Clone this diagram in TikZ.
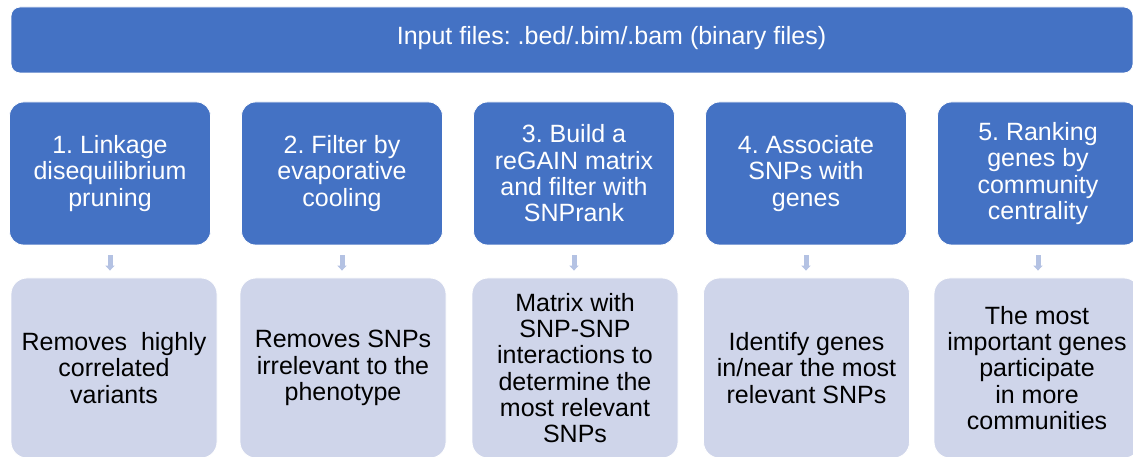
\documentclass[tikz,border=0pt]{standalone}
\usepackage{fontspec}
\setmainfont{Liberation Sans}
\frenchspacing
\usetikzlibrary{arrows.meta}
\definecolor{stepblue}{HTML}{4472C4}
\definecolor{noteblue}{HTML}{CFD5EA}
\definecolor{arrowblue}{HTML}{B4C2E3}
\tikzset{
  banner/.style={fill=stepblue, draw=white, line width=0.8pt, rounded corners=9pt,
    minimum width=1122pt, minimum height=66pt, inner sep=0pt},
  bannertext/.style={text=white, font=\fontsize{25}{26.3}\selectfont, inner sep=0pt},
  stepbox/.style={fill=stepblue, draw=white, line width=0.8pt, rounded corners=14pt,
    minimum width=201pt, minimum height=143pt, inner sep=0pt, align=center,
    text=white, font=\fontsize{25}{26.3}\selectfont},
  notebox/.style={fill=noteblue, draw=white, line width=0.8pt, rounded corners=16pt,
    minimum width=206pt, minimum height=180pt, inner sep=0pt, align=center,
    text=black, font=\fontsize{25}{26.3}\selectfont},
  flow/.style={draw=arrowblue, line width=5pt, shorten <=10pt, shorten >=7pt,
    -{Triangle[width=9pt,length=5pt]}}
}
\begin{document}
\begin{tikzpicture}[x=1pt,y=-1pt]
\useasboundingbox (0,0) rectangle (1133,457);

% input banner
\node[banner] (in) at (572,40) {};
\node[bannertext, anchor=base] (intext) at (611.5,45) {Input files: .bed/.bim/.bam (binary files)};

% pipeline steps
\node[stepbox] (s1) at (110,173.5) {1. Linkage\\disequilibrium\\pruning};
\node[stepbox] (s2) at (342,173.5) {2. Filter by\\evaporative\\cooling};
\node[stepbox] (s3) at (574,173.5) {3. Build a\\reGAIN matrix\\and filter with\\SNPrank};
\node[stepbox] (s4) at (806,173.5) {4. Associate\\SNPs with\\genes};
\node[stepbox] (s5) at (1038,173.5) {5. Ranking\\genes by\\community\\centrality};

% outcome of each step
\node[notebox] (n1) at (114,368) {Removes\ \ highly\\correlated\\variants};
\node[notebox] (n2) at (343,368) {Removes SNPs\\irrelevant to the\\phenotype};
\node[notebox] (n3) at (575,368) {Matrix with\\SNP-SNP\\interactions to\\determine the\\most relevant\\SNPs};
\node[notebox] (n4) at (806.5,368) {Identify genes\\in/near the most\\relevant SNPs};
\node[notebox] (n5) at (1037,368) {The most\\important genes\\participate\\in more\\communities};

% step-to-outcome arrows
\foreach \i in {1,...,5} {
  \draw[flow] (s\i.south) -- (s\i.south |- n\i.north);
}
\end{tikzpicture}
\end{document}
